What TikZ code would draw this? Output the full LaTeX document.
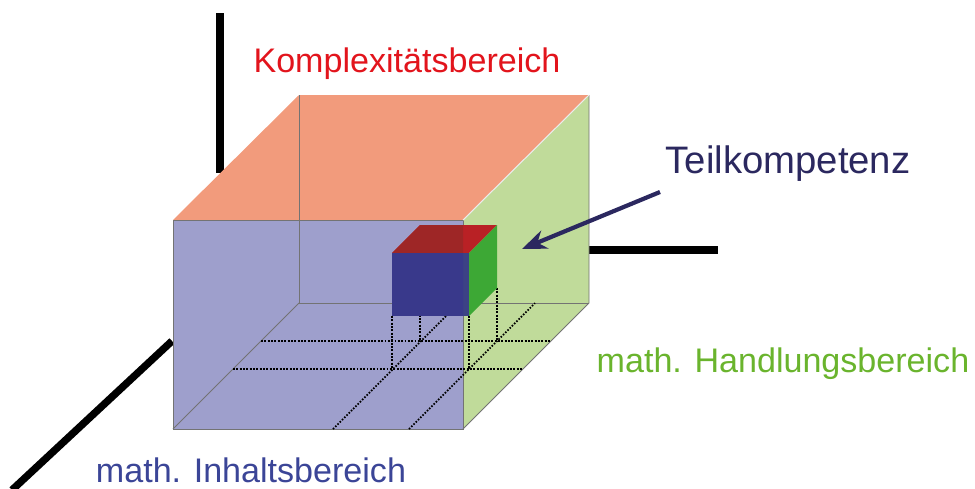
\documentclass[tikz,border=0pt]{standalone}
\usepackage{fontspec}
\setmainfont{Liberation Sans}
\usepackage{xcolor}
\usetikzlibrary{arrows.meta}

\definecolor{topface}{HTML}{F29B7C}
\definecolor{sideface}{HTML}{C0DB9A}
\definecolor{frontface}{HTML}{9E9FCC}
\definecolor{cubeblue}{HTML}{39398B}
\definecolor{cubebluelt}{HTML}{3C4285}
\definecolor{cubered}{HTML}{B92125}
\definecolor{cubereddk}{HTML}{9E2626}
\definecolor{cubegreen}{HTML}{3DA835}
\definecolor{komplexcol}{HTML}{E2141C}
\definecolor{handlcol}{HTML}{6AB42D}
\definecolor{inhaltcol}{HTML}{3B4597}
\definecolor{teilcol}{HTML}{2B285F}

\begin{document}
\begin{tikzpicture}[
  x=0.02cm, y=-0.02cm,
  >={Stealth[length=14pt, width=11pt]},
  axis/.style={line width=4.2pt, black},
  edge/.style={line width=0.5pt, draw=black!55},
  hgrid/.style={line width=1.6pt, dash pattern=on 1.1pt off 0.8pt},
  dgrid/.style={line width=1pt, dash pattern=on 0.9pt off 0.9pt},
  lbl/.style={font=\fontsize{19.4}{23}\selectfont, inner sep=0pt, anchor=base},
  ar/.style={->, line width=2.4pt, draw=teilcol, fill=teilcol},
]
\useasboundingbox (0,0) rectangle (975,488);
\coordinate (zup1) at (220,13);   \coordinate (zup2) at (220,173);
\coordinate (xle1) at (172,341);  \coordinate (xle2) at (12,490);
\coordinate (yri1) at (589,250);  \coordinate (yri2) at (718,250);
\draw[axis] (zup1) -- (zup2);
\draw[axis] (xle1) -- (xle2);
\draw[axis] (yri1) -- (yri2);
\fill[topface] (173,220) -- (299,95) -- (589,95) -- (463,220) -- cycle;
\fill[sideface] (463,220) -- (589,95) -- (589,303) -- (463,429) -- cycle;
\fill[frontface] (173,220) rectangle (463,429);
\draw[edge] (299,95) -- (299,303) -- (589,303);
\draw[edge] (173,429) -- (299,303);
\draw[edge] (173,220) rectangle (463,429);
\draw[edge] (463,429) -- (589,303) -- (589,95);
\draw[line width=0.6pt, white!85!gray] (463,220) -- (589,95);
\draw[hgrid] (261,341) -- (551,341);
\draw[hgrid] (233,369) -- (523,369);
\draw[dgrid] (333,429) -- (459,303);
\draw[dgrid] (409,429) -- (535,303);
\foreach \xv/\ya/\yb in {392/316/369, 469/316/369, 420/288/341, 497/288/341}
  \draw[hgrid, line width=1.3pt] (\xv,\ya) -- (\xv,\yb);
\fill[cubered] (392,253) -- (420,225) -- (497,225) -- (469,253) -- cycle;
\fill[cubebluelt] (392,253) rectangle (469,316);
\begin{scope}
  \clip (173,220) rectangle (463,429);
  \fill[cubereddk] (392,253) -- (420,225) -- (497,225) -- (469,253) -- cycle;
  \fill[cubeblue] (392,253) rectangle (469,316);
\end{scope}
\fill[cubegreen] (469,253) -- (497,225) -- (497,288) -- (469,316) -- cycle;
\node[lbl, text=komplexcol] (komplex) at (407,72) {Komplexitätsbereich};
\node[lbl, text=handlcol] (handl) at (783,372) {math. Handlungsbereich};
\node[lbl, text=inhaltcol] (inhalt) at (251,482) {math. Inhaltsbereich};
\node[lbl, text=teilcol, font=\fontsize{21.8}{26}\selectfont] (teil) at (788,173) {Teilkompetenz};
\coordinate (pfeil1) at (660,192);
\coordinate (pfeil2) at (522,249);
\draw[ar] (pfeil1) -- (pfeil2);
\end{tikzpicture}
\end{document}
